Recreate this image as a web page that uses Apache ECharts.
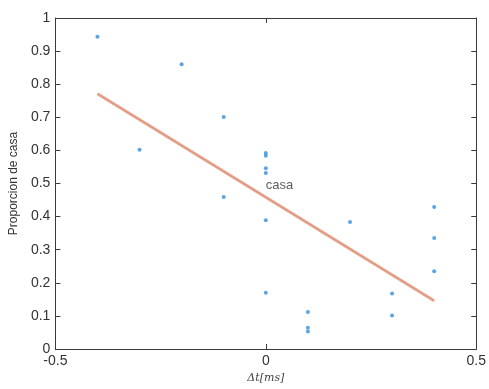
<!DOCTYPE html>
<html><head><meta charset="utf-8">
<script src="https://cdn.jsdelivr.net/npm/echarts@6/dist/echarts.min.js"></script>
<style>html,body{margin:0;padding:0;background:#fff}#c{width:489px;height:389px}</style>
</head><body><div id="c"></div>
<script>
const deltaT = [-0.4, -0.3, -0.2, -0.1, -0.1, 0, 0, 0, 0, 0, 0, 0.1, 0.1, 0.1, 0.2, 0.3, 0.3, 0.4, 0.4, 0.4];
const propCasa = [0.943, 0.602, 0.860, 0.701, 0.459, 0.592, 0.584, 0.546, 0.532, 0.389, 0.170, 0.112, 0.064, 0.053, 0.384, 0.168, 0.101, 0.429, 0.335, 0.235];
const fitX = [-0.4, 0.4];
const fitY = [0.771, 0.146];
const xTicks = [-0.5, 0, 0.5];
const labelPos = [0, 0.493];
const labelText = 'casa';

const chart = echarts.init(document.getElementById('c'), null, {renderer: 'canvas'});
const font = 'Liberation Sans, Helvetica, Arial, sans-serif';
const axisLine = {show: true, onZero: false, lineStyle: {color: '#3a3a3a', width: 1}};
const tick = {show: true, inside: true, length: 5, lineStyle: {color: '#3a3a3a'}};
const fmt = v => String(Math.round(v * 10) / 10);
chart.setOption({
  animation: false,
  grid: {left: 53, right: 11, top: 18, bottom: 36},
  xAxis: [{
    type: 'value', min: xTicks[0], max: xTicks[xTicks.length - 1], interval: 0.5,
    axisLine, splitLine: {show: false}, axisTick: tick,
    axisLabel: {color: '#333', fontSize: 14, fontFamily: font, margin: 5, formatter: fmt},
    name: 'Δt[ms]', nameLocation: 'middle', nameGap: 24,
    nameTextStyle: {fontFamily: 'DejaVu Serif, serif', fontStyle: 'italic', fontSize: 11, color: '#444'}
  }, {
    type: 'value', position: 'top', min: -0.5, max: 0.5, interval: 0.5,
    axisLine, splitLine: {show: false}, axisTick: tick, axisLabel: {show: false}
  }],
  yAxis: [{
    type: 'value', min: 0, max: 1, interval: 0.1,
    axisLine, splitLine: {show: false}, axisTick: tick,
    axisLabel: {color: '#333', fontSize: 14, fontFamily: font, margin: 5, formatter: fmt},
    name: 'Proporcion de casa', nameLocation: 'middle', nameGap: 34,
    nameTextStyle: {fontFamily: font, fontSize: 12, color: '#333'}
  }, {
    type: 'value', position: 'right', min: 0, max: 1, interval: 0.1,
    axisLine, splitLine: {show: false}, axisTick: tick, axisLabel: {show: false}
  }],
  series: [{
    type: 'line', xAxisIndex: 0, yAxisIndex: 0,
    data: fitX.map((x, i) => [x, fitY[i]]),
    symbol: 'none', lineStyle: {color: '#eaa58e', width: 3}, z: 1
  }, {
    type: 'line', xAxisIndex: 0, yAxisIndex: 0,
    data: fitX.map((x, i) => [x, fitY[i]]),
    symbol: 'none', lineStyle: {color: '#c98f7e', width: 1, opacity: 0.6}, z: 2
  }, {
    type: 'scatter', xAxisIndex: 0, yAxisIndex: 0,
    data: deltaT.map((x, i) => [x, propCasa[i]]),
    symbol: 'circle', symbolSize: 4, itemStyle: {color: '#2f8fe0'}, z: 3
  }, {
    type: 'scatter', xAxisIndex: 0, yAxisIndex: 0,
    data: [labelPos], symbolSize: 0, silent: true,
    label: {show: true, position: 'right', distance: 0, formatter: labelText,
      fontFamily: font, fontSize: 13, color: '#333'}
  }]
});
</script></body></html>
